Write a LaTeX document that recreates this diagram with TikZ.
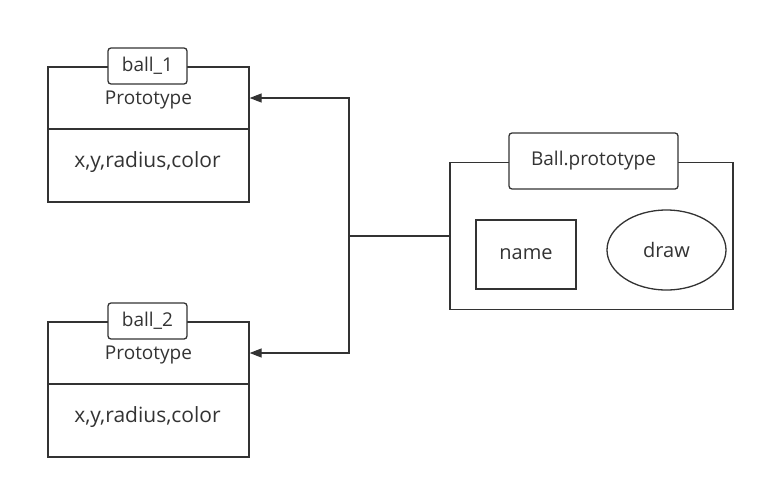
\documentclass[tikz,border=0pt]{standalone}
\usepackage{fontspec}
\setmainfont{Open Sans}
\usetikzlibrary{arrows.meta, shapes.geometric}

\tikzset{
	part/.style = {draw, line width = 1.3pt, minimum width = 201pt, inner sep = 0pt},
	tag/.style = {draw, line width = 1.3pt, rounded corners = 3pt, fill = white, minimum height = 36pt, inner sep = 0pt},
	link/.style = {line width = 1.3pt, -{Triangle[length = 12pt, width = 9pt]}}
}

\begin{document}
\begin{tikzpicture}[x = 1pt, y = -1pt, font = \fontsize{19}{21}\selectfont, color = black!80]

	\useasboundingbox (0, 0) rectangle (764, 490);

	% ball_1
	\node [part, minimum height = 62pt] (head1) at (148.5, 98) {};
	\node [part, minimum height = 73pt] (body1) at (148.5, 165.5) {};
	\node at (148.5, 100) {Prototype};
	\node at (147.5, 162) {\fontsize{21}{23}\selectfont x,y,radius,color};
	\node [tag, minimum width = 79pt] (tag1) at (147.5, 66) {ball\_1};

	% ball_2
	\node [part, minimum height = 62pt] (head2) at (148.5, 353) {};
	\node [part, minimum height = 73pt] (body2) at (148.5, 420.5) {};
	\node at (148.5, 355) {Prototype};
	\node at (147.5, 417) {\fontsize{21}{23}\selectfont x,y,radius,color};
	\node [tag, minimum width = 79pt] (tag2) at (147.5, 321) {ball\_2};

	% Ball.prototype
	\node [draw, line width = 1.3pt, minimum width = 283pt, minimum height = 147pt] (proto) at (591.5, 236) {};
	\node [tag, minimum width = 169pt, minimum height = 56pt] (tag3) at (593.5, 161) {Ball.prototype};
	\node [draw, line width = 1.3pt, minimum width = 100pt, minimum height = 69pt] (name) at (526, 254.5) {\fontsize{20}{22}\selectfont name};
	\node [draw, ellipse, line width = 1.3pt, minimum width = 119pt, minimum height = 80pt, inner sep = 0pt] (draw) at (666.5, 250) {\fontsize{20}{22}\selectfont draw};

	\coordinate (split) at (349, 236);
	\draw [line width = 1.3pt] (proto.west) -- (split);
	\draw [link] (split) |- (head1.east);
	\draw [link] (split) |- (head2.east);

\end{tikzpicture}
\end{document}
